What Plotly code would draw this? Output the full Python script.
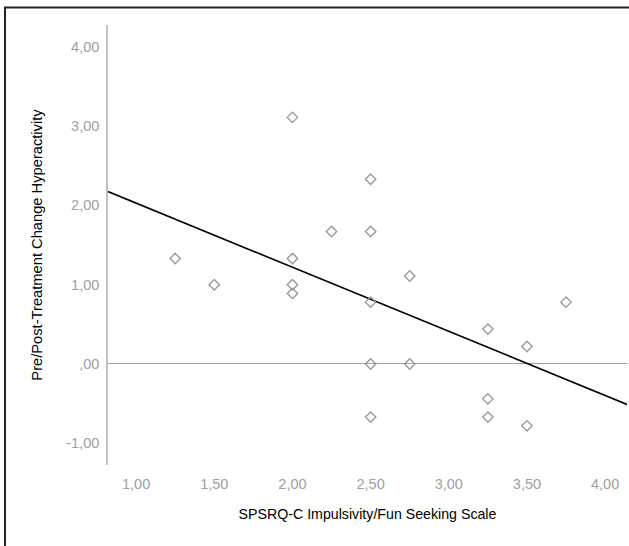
import numpy as np
import plotly.graph_objects as go

# Data
impulsivity = [1.25, 1.50, 2.00, 2.00, 2.00, 2.00, 2.25, 2.50, 2.50, 2.50,
               2.50, 2.50, 2.75, 2.75, 3.25, 3.25, 3.25, 3.50, 3.50, 3.75]
hyper_change = [1.33, 1.00, 3.11, 1.33, 1.00, 0.89, 1.67, 2.33, 1.67, 0.78,
                0.00, -0.67, 1.11, 0.00, 0.44, -0.44, -0.67, 0.22, -0.78, 0.78]

x_ticks = [1.0, 1.5, 2.0, 2.5, 3.0, 3.5, 4.0]
x_ticktext = ["1,00", "1,50", "2,00", "2,50", "3,00", "3,50", "4,00"]
y_ticks = [-1.0, 0.0, 1.0, 2.0, 3.0, 4.0]
y_ticktext = ["-1,00", ",00", "1,00", "2,00", "3,00", "4,00"]

x_range = [0.82, 4.14]
y_range = [-1.274, 4.275]

slope, intercept = np.polyfit(impulsivity, hyper_change, 1)
fit_x = np.array(x_range)
fit_y = intercept + slope * fit_x

fig = go.Figure()
fig.add_trace(go.Scatter(
    x=fit_x, y=fit_y, mode="lines",
    line=dict(color="black", width=1.6),
    hoverinfo="skip", showlegend=False))
fig.add_trace(go.Scatter(
    x=impulsivity, y=hyper_change, mode="markers",
    marker=dict(symbol="diamond-open", size=8, color="#9a9a9a",
                line=dict(width=1.4, color="#9a9a9a")),
    showlegend=False))

font = "Liberation Sans, Arial, sans-serif"
fig.update_layout(
    width=629, height=546,
    margin=dict(l=108, r=2, t=25, b=81),
    paper_bgcolor="white", plot_bgcolor="white",
    font=dict(family=font, size=14, color="black"),
    xaxis=dict(range=x_range, tickvals=x_ticks, ticktext=x_ticktext,
               showgrid=False, zeroline=False, showline=False, ticks="",
               ticklabelstandoff=8,
               tickfont=dict(size=14.5, color="#a0a0a0"),
               title=dict(text="SPSRQ-C Impulsivity/Fun Seeking Scale",
                          font=dict(size=14.2, color="black"), standoff=18),
               fixedrange=True),
    yaxis=dict(range=y_range, tickvals=y_ticks, ticktext=y_ticktext,
               showgrid=False, zeroline=True, zerolinecolor="#a0a0a0",
               zerolinewidth=1, showline=True, linecolor="#c0c0c0",
               linewidth=1.5, ticks="", ticklabelstandoff=4,
               tickfont=dict(size=14.5, color="#a0a0a0"),
               title=dict(text="Pre/Post-Treatment Change Hyperactivity",
                          font=dict(size=14.7, color="black"), standoff=20),
               fixedrange=True),
    shapes=[dict(type="rect", xref="paper", yref="paper",
                 x0=-0.1985, x1=1.2, y0=-0.5, y1=1.04,
                 line=dict(color="#222222", width=2), layer="below")],
)

fig.write_html(
    "out.html",
    config={"displayModeBar": False},
    post_script="document.body.style.margin='0';"
                "document.documentElement.style.overflow='hidden';",
)
